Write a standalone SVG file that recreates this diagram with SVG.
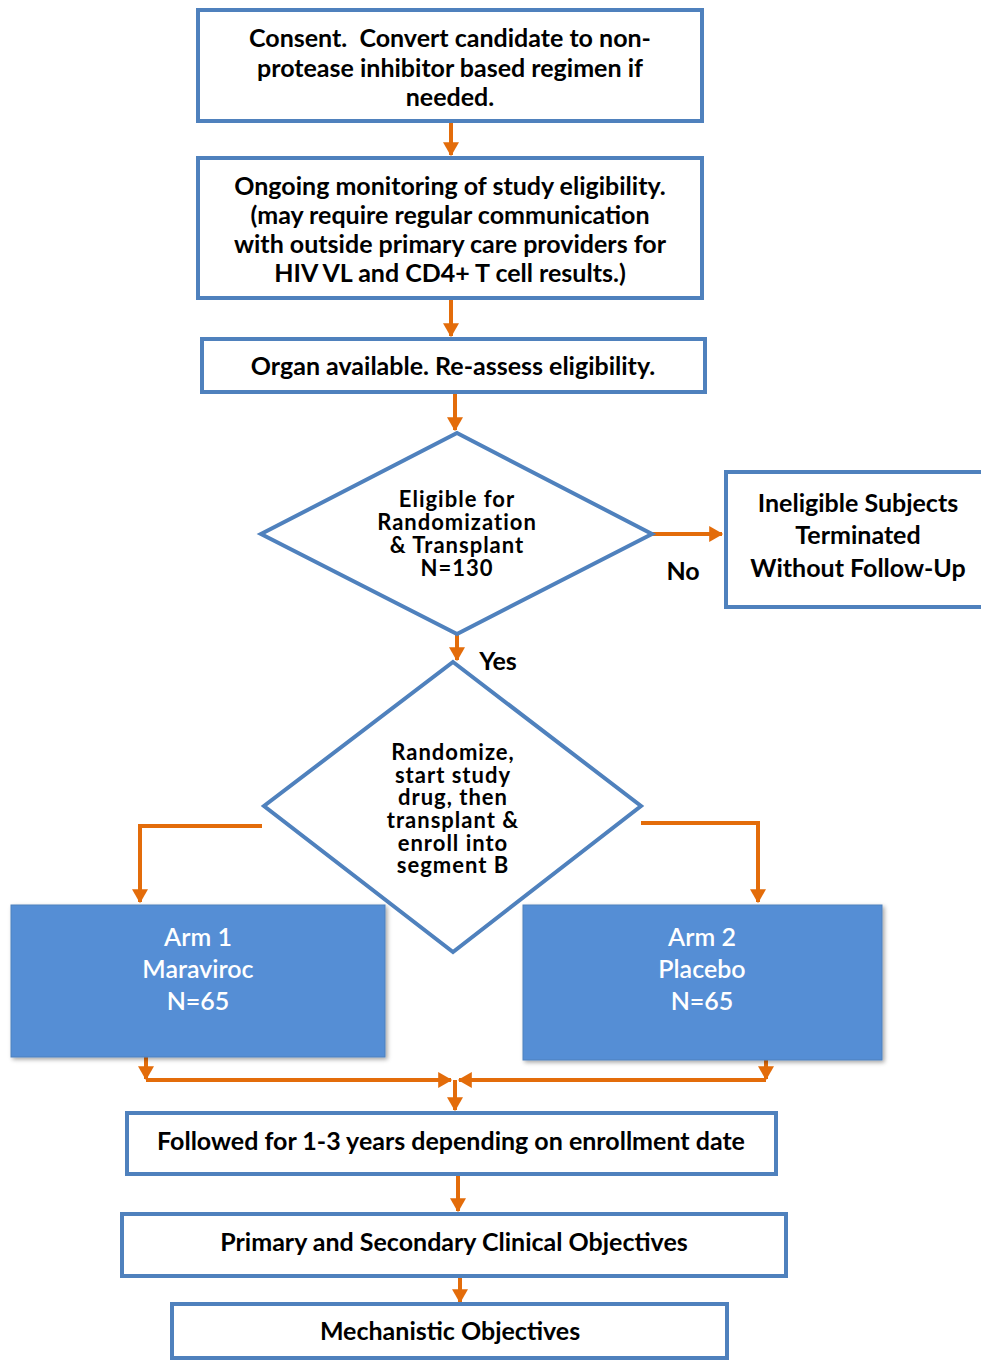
<svg xmlns="http://www.w3.org/2000/svg" width="981" height="1360" viewBox="0 0 981 1360">
<defs>
<marker id="ah" markerWidth="4" markerHeight="4" refX="3.2" refY="2" orient="auto" markerUnits="strokeWidth"><path d="M0,0 L3.5,2 L0,4 Z" fill="#E36C0A"/></marker>
<filter id="sh" x="-5%" y="-5%" width="115%" height="115%"><feDropShadow dx="2" dy="2" stdDeviation="2" flood-color="#000" flood-opacity="0.35"/></filter>
</defs>
<style>
.box{fill:#fff;stroke:#4F81BD;stroke-width:4}
.arm{fill:#558ED5;stroke:#4F81BD;stroke-width:1}
.t{font-family:Lato,"Open Sans","Liberation Sans",sans-serif;font-weight:bold;font-size:25px;fill:#000;text-anchor:middle}
.d{font-family:Lato,"Open Sans","Liberation Sans",sans-serif;font-weight:bold;font-size:22px;letter-spacing:1px;fill:#000;text-anchor:middle}
.w{font-family:Lato,"Open Sans","Liberation Sans",sans-serif;font-weight:600;font-size:25px;fill:#fff;text-anchor:middle}
.c{fill:none;stroke:#E36C0A;stroke-width:4}
</style>
<rect width="981" height="1360" fill="#fff"/>
<g id="connectors">
<line class="c" x1="451" y1="121" x2="451" y2="155" marker-end="url(#ah)"/>
<line class="c" x1="451" y1="298" x2="451" y2="336" marker-end="url(#ah)"/>
<line class="c" x1="455" y1="392" x2="455" y2="430" marker-end="url(#ah)"/>
<line class="c" x1="652" y1="534" x2="722" y2="534" marker-end="url(#ah)"/>
<line class="c" x1="457" y1="634" x2="457" y2="660" marker-end="url(#ah)"/>
<polyline class="c" points="262,826 140,826 140,902" marker-end="url(#ah)"/>
<polyline class="c" points="641,823 758,823 758,902" marker-end="url(#ah)"/>
<line class="c" x1="146" y1="1057" x2="146" y2="1079" marker-end="url(#ah)"/>
<line class="c" x1="766" y1="1060" x2="766" y2="1079" marker-end="url(#ah)"/>
<line class="c" x1="146" y1="1080" x2="451" y2="1080" marker-end="url(#ah)"/>
<line class="c" x1="766" y1="1080" x2="459" y2="1080" marker-end="url(#ah)"/>
<line class="c" x1="455" y1="1080" x2="455" y2="1110" marker-end="url(#ah)"/>
<line class="c" x1="458" y1="1174" x2="458" y2="1211" marker-end="url(#ah)"/>
<line class="c" x1="460" y1="1276" x2="460" y2="1302" marker-end="url(#ah)"/>
</g>
<g id="n1"><rect class="box" x="198" y="10" width="504" height="111"/>
<text class="t" x="450" y="47">Consent.&#160; Convert candidate to non-</text>
<text class="t" x="450" y="77">protease inhibitor based regimen if</text>
<text class="t" x="450" y="106">needed.</text></g>
<g id="n2"><rect class="box" x="198" y="158" width="504" height="140"/>
<text class="t" x="450" y="195">Ongoing monitoring of study eligibility.</text>
<text class="t" x="450" y="224">(may require regular communication</text>
<text class="t" x="450" y="253">with outside primary care providers for</text>
<text class="t" x="450" y="282">HIV VL and CD4+ T cell results.)</text></g>
<g id="n3"><rect class="box" x="202" y="339" width="503" height="53"/>
<text class="t" x="453" y="375">Organ available. Re-assess eligibility.</text></g>
<g id="d1"><polygon class="box" points="457,433 652,534 457,634 261,534"/>
<text class="d" x="457" y="507">Eligible for</text>
<text class="d" x="457" y="530">Randomization</text>
<text class="d" x="457" y="553">&amp; Transplant</text>
<text class="d" x="457" y="576">N=130</text></g>
<text class="t" x="683" y="580">No</text>
<text class="t" x="498" y="670">Yes</text>
<g id="n4"><rect class="box" x="726" y="472" width="258" height="135"/>
<text class="t" x="858" y="512">Ineligible Subjects</text>
<text class="t" x="858" y="544">Terminated</text>
<text class="t" x="858" y="577">Without Follow-Up</text></g>
<g id="d2"><polygon class="box" points="453,662 641,806 453,952 264,806"/>
<text class="d" x="453" y="760">Randomize,</text>
<text class="d" x="453" y="783">start study</text>
<text class="d" x="453" y="805">drug, then</text>
<text class="d" x="453" y="828">transplant &amp;</text>
<text class="d" x="453" y="851">enroll into</text>
<text class="d" x="453" y="873">segment B</text></g>
<g id="arm1"><rect class="arm" x="11" y="905" width="374" height="152" filter="url(#sh)"/>
<text class="w" x="198" y="946">Arm 1</text>
<text class="w" x="198" y="978">Maraviroc</text>
<text class="w" x="198" y="1010">N=65</text></g>
<g id="arm2"><rect class="arm" x="523" y="905" width="359" height="155" filter="url(#sh)"/>
<text class="w" x="702" y="946">Arm 2</text>
<text class="w" x="702" y="978">Placebo</text>
<text class="w" x="702" y="1010">N=65</text></g>
<g id="n5"><rect class="box" x="127" y="1113" width="649" height="61"/>
<text class="t" x="451" y="1150">Followed for 1-3 years depending on enrollment date</text></g>
<g id="n6"><rect class="box" x="122" y="1214" width="664" height="62"/>
<text class="t" x="454" y="1251">Primary and Secondary Clinical Objectives</text></g>
<g id="n7"><rect class="box" x="172" y="1304" width="555" height="54"/>
<text class="t" x="450" y="1340">Mechanistic Objectives</text></g>
</svg>
